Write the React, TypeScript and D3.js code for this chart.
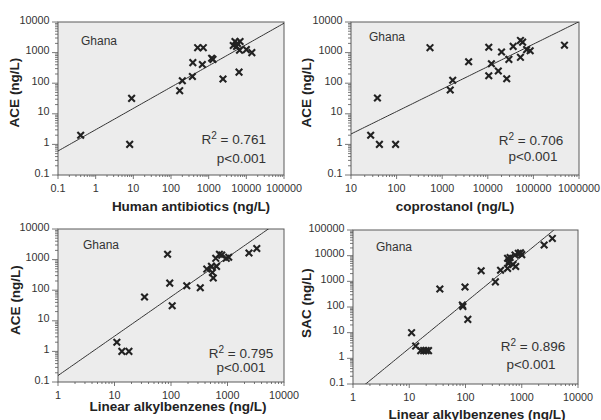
import React from 'react';
import * as d3 from 'd3';

const W = 601;
const H = 420;

// ACE vs human antibiotics
const abxX = [0.4, 8, 9, 170, 200, 370, 380, 510, 720, 680, 1200, 1300, 2400, 6400, 5000, 6800, 5500, 4500, 6600, 10000, 14000, 5800];
const abxAce = [2, 1, 32, 57, 120, 165, 470, 1450, 1450, 410, 650, 600, 137, 230, 2300, 2300, 1600, 1700, 1200, 1250, 1000, 2000];

// ACE vs coprostanol
const copX = [27, 42, 95, 38, 540, 1500, 1700, 3800, 10500, 10500, 12000, 17000, 20000, 26000, 29000, 36000, 52000, 52000, 58000, 71000, 85000, 480000];
const copAce = [2, 1, 1, 33, 1450, 60, 125, 500, 1500, 175, 430, 250, 1050, 140, 600, 1600, 2500, 700, 2200, 1250, 1150, 1750];

// ACE vs linear alkylbenzenes
const labX = [11, 13.5, 18, 34, 87, 95, 105, 190, 330, 430, 520, 560, 540, 640, 620, 790, 720, 950, 1050, 2400, 3300];
const labAce = [2, 1, 1, 60, 1500, 170, 31, 140, 120, 490, 600, 250, 380, 600, 1100, 1400, 1500, 1100, 1200, 1650, 2300];

// SAC vs linear alkylbenzenes
const lab2X = [11, 13, 16, 18, 20, 22, 35, 90, 88, 98, 110, 190, 340, 420, 577, 560, 600, 620, 560, 700, 760, 1000, 870, 950, 780, 2500, 3500];
const labSac = [10, 3, 2, 2, 2, 2, 500, 105, 120, 600, 33, 2600, 950, 2700, 5000, 7900, 6000, 8500, 3200, 4500, 10600, 11000, 12300, 13000, 3800, 26000, 47000];

// log10(y) = a + b * log10(x)
const fitAbx = [0.48, 0.696];
const fitCop = [-0.394, 0.734];
const fitLab = [-0.79, 1.287];
const fitLab2 = [-1.403, 1.793];

const r2Labels = ['0.761', '0.706', '0.795', '0.896'];

const panels = [
  {
    xs: abxX, ys: abxAce, fit: fitAbx, r2: r2Labels[0],
    xDomain: [0.1, 1e5], yDomain: [0.1, 1e4],
    box: [58, 284, 22, 175],
    xTitle: 'Human antibiotics (ng/L)', yTitle: 'ACE (ng/L)',
    xTitlePos: [191, 211], yTitlePos: [19, 92.5],
    ghana: [81, 45], rPos: [266, 144, 'end'], pPos: [266, 163, 'end'],
  },
  {
    xs: copX, ys: copAce, fit: fitCop, r2: r2Labels[1],
    xDomain: [10, 1e6], yDomain: [0.1, 1e4],
    box: [351, 579, 22, 175],
    xTitle: 'coprostanol (ng/L)', yTitle: 'ACE (ng/L)',
    xTitlePos: [455, 211], yTitlePos: [311, 92.5],
    ghana: [369, 41], rPos: [531, 145, 'middle'], pPos: [533, 161, 'middle'],
  },
  {
    xs: labX, ys: labAce, fit: fitLab, r2: r2Labels[2],
    xDomain: [1, 1e4], yDomain: [0.1, 1e4],
    box: [58, 284, 229, 382],
    xTitle: 'Linear alkylbenzenes (ng/L)', yTitle: 'ACE (ng/L)',
    xTitlePos: [178, 411], yTitlePos: [20, 300],
    ghana: [83, 249], rPos: [241, 358, 'middle'], pPos: [241, 372, 'middle'],
  },
  {
    xs: lab2X, ys: labSac, fit: fitLab2, r2: r2Labels[3],
    xDomain: [1, 1e4], yDomain: [0.1, 1e5],
    box: [353, 578, 230, 384],
    xTitle: 'Linear alkylbenzenes (ng/L)', yTitle: 'SAC (ng/L)',
    xTitlePos: [477, 419], yTitlePos: [311, 303],
    ghana: [376, 251], rPos: [533, 351, 'middle'], pPos: [531, 369, 'middle'],
  },
];

const fmt = d3.format('~f');
const isMajor = (v: number) => Math.abs(Math.log10(v) - Math.round(Math.log10(v))) < 1e-6;
const marker = d3.symbol(d3.symbolX, 30)();
const FONT = '"Liberation Sans", Arial, Helvetica, sans-serif';

function Panel({ p, i }: { p: any; i: number }) {
  const [x0, x1, y0, y1] = p.box;
  const x = d3.scaleLog().domain(p.xDomain).range([x0, x1]);
  const y = d3.scaleLog().domain(p.yDomain).range([y1, y0]);
  const [a, b] = p.fit;
  const lx = d3.range(0, 101).map(k => {
    const lv = Math.log10(p.xDomain[0]) + (k / 100) * (Math.log10(p.xDomain[1]) - Math.log10(p.xDomain[0]));
    return [Math.pow(10, lv), Math.pow(10, a + b * lv)];
  });
  const line = d3.line<number[]>().x(d => x(d[0])).y(d => y(d[1]));
  const clipId = `clip${i}`;
  return (
    <g>
      <defs>
        <clipPath id={clipId}>
          <rect x={x0} y={y0} width={x1 - x0} height={y1 - y0} />
        </clipPath>
      </defs>
      <rect x={x0} y={y0} width={x1 - x0} height={y1 - y0} fill="#ececec" stroke="#5a5a5a" strokeWidth={1} />
      {x.ticks().map((t, k) => (
        <line key={'xt' + k} x1={x(t)} x2={x(t)} y1={y1} y2={y1 + (isMajor(t) ? 4 : 2)} stroke="#555" strokeWidth={0.8} />
      ))}
      {y.ticks().map((t, k) => (
        <line key={'yt' + k} x1={x0} x2={x0 - (isMajor(t) ? 6 : 3)} y1={y(t)} y2={y(t)} stroke="#555" strokeWidth={0.8} />
      ))}
      {x.ticks().filter(isMajor).map((t, k) => (
        <text key={'xl' + k} x={x(t)} y={y1 + 16.5} textAnchor="middle" fontSize={10.8} fill="#333" fontFamily={FONT}>
          {fmt(t)}
        </text>
      ))}
      {y.ticks().filter(isMajor).map((t, k) => (
        <text key={'yl' + k} x={x0 - 8.5} y={y(t) + 1.5} textAnchor="end" fontSize={10.8} fill="#333" fontFamily={FONT}>
          {fmt(t)}
        </text>
      ))}
      <path d={line(lx) || ''} fill="none" stroke="#333" strokeWidth={1} clipPath={`url(#${clipId})`} />
      {p.xs.map((v: number, k: number) => (
        <path key={'m' + k} d={marker || ''} transform={`translate(${x(v)},${y(p.ys[k])})`} fill="none" stroke="#222" strokeWidth={2.1} />
      ))}
      <text x={p.ghana[0]} y={p.ghana[1]} fontSize={12} fill="#333" fontFamily={FONT}>Ghana</text>
      <text x={p.rPos[0]} y={p.rPos[1]} textAnchor={p.rPos[2]} fontSize={13.5} fill="#333" fontFamily={FONT}>
        R<tspan dy={-5} fontSize={10}>2</tspan><tspan dy={5}>{' = ' + p.r2}</tspan>
      </text>
      <text x={p.pPos[0]} y={p.pPos[1]} textAnchor={p.pPos[2]} fontSize={13.5} fill="#333" fontFamily={FONT}>p&lt;0.001</text>
      <text x={p.xTitlePos[0]} y={p.xTitlePos[1]} textAnchor="middle" fontSize={13.5} fontWeight="bold" fill="#222" fontFamily={FONT}>
        {p.xTitle}
      </text>
      <text transform={`translate(${p.yTitlePos[0]},${p.yTitlePos[1]}) rotate(-90)`} textAnchor="middle" fontSize={13.5} fontWeight="bold" fill="#222" fontFamily={FONT}>
        {p.yTitle}
      </text>
    </g>
  );
}

export default function App() {
  return (
    <svg width={W} height={H} style={{ position: 'absolute', left: 0, top: 0, background: '#fff' }}>
      {panels.map((p, i) => <Panel key={i} p={p} i={i} />)}
    </svg>
  );
}
